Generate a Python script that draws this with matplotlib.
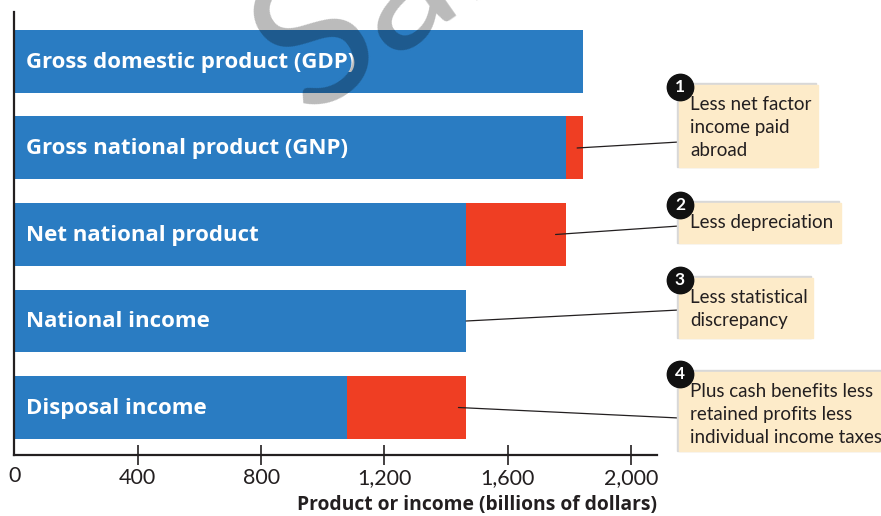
import matplotlib
matplotlib.use("Agg")
import matplotlib.pyplot as plt
from matplotlib.patches import Rectangle, ConnectionPatch
from matplotlib.lines import Line2D

plt.rcParams["font.family"] = ["Lato", "DejaVu Sans"]

# data
categories = ["Gross domestic product (GDP)", "Gross national product (GNP)",
              "Net national product", "National income", "Disposal income"]
blue_values = [1845, 1790, 1465, 1465, 1080]
red_values = [0, 55, 325, 0, 385]
x_ticks = [0, 400, 800, 1200, 1600, 2000]
x_tick_labels = ["0", "400", "800", "1,200", "1,600", "2,000"]
notes = ["Less net factor\nincome paid\nabroad", "Less depreciation",
         "Less statistical\ndiscrepancy",
         "Plus cash benefits less\nretained profits less\nindividual income taxes"]
note_rows = [1, 2, 3, 4]            # which bar each note points at
note_anchor_x = [1825, 1755, 1465, 1440]

BLUE = "#2A7CC2"
RED = "#EF3E23"
BOX = "#FDEBC9"
INK = "#231F20"

W, H = 881, 516
fig = plt.figure(figsize=(W / 100, H / 100), dpi=100)
ax = fig.add_axes([14.4 / W, 1 - 455 / H, (656.7 - 14.4) / W, (455 - 12) / H])

def fx(px):
    return px / W

def fy(py):
    return 1 - py / H

ypos = [4 - i for i in range(len(categories))]
ax.barh(ypos, blue_values, height=0.728, color=BLUE, zorder=2)
ax.barh(ypos, red_values, left=blue_values, height=0.728, color=RED, zorder=2)

for y, name in zip(ypos, categories):
    ax.text(38, y - 0.01, name, color="white", fontsize=16, fontweight="bold",
            family="Open Sans", va="center", ha="left", zorder=3)

ax.set_xlim(0, 2083)
ax.set_ylim(-0.549, 4.572)
for s in ["top", "right"]:
    ax.spines[s].set_visible(False)
for s in ["left", "bottom"]:
    ax.spines[s].set_color(INK)
    ax.spines[s].set_linewidth(1.6)
ax.set_yticks([])
ax.set_xticks(x_ticks[1:])
ax.set_xticklabels(x_tick_labels[1:])
ax.tick_params(axis="x", direction="inout", length=15, width=1.2, color=INK,
               labelsize=15.5, labelcolor=INK, pad=2)
fig.text(fx(15), fy(476), "0", fontsize=15.5, color=INK, ha="center", va="center")
ax.set_xlabel("Product or income (billions of dollars)", fontsize=13.9,
              fontweight="bold", family="Open Sans", color=INK, loc="right", labelpad=5)

# annotation boxes (pixel layout)
boxes = [(679, 85, 818, 167), (679, 203, 841, 243),
         (679, 278, 813, 338), (679, 372, 885, 451)]
line_ends = [142, 226, 310, 418]
for i, (x0, y0, x1, y1) in enumerate(boxes):
    fig.patches.append(Rectangle((fx(x0 - 2), fy(y1)), fx(x1 - x0), fy(y0 - 2) - fy(y1),
                                 transform=fig.transFigure, color="#D8D8D8", zorder=4))
    fig.patches.append(Rectangle((fx(x0), fy(y1)), fx(x1 - x0), fy(y0) - fy(y1),
                                 transform=fig.transFigure, color=BOX, zorder=5))
    fig.text(fx(x0 + 11), fy(y0 + 11), notes[i], fontsize=13.5, color=INK,
             ha="left", va="top", linespacing=1.42, zorder=6)
    fig.lines.append(Line2D([fx(x0 + 1)], [fy(y0 + 2)], marker="o", markersize=19,
                            color="#111111", transform=fig.transFigure, zorder=7))
    fig.text(fx(x0 + 1), fy(y0 + 2), str(i + 1), color="white", fontsize=12.5,
             fontweight="bold", ha="center", va="center", zorder=8)
    con = ConnectionPatch(xyA=(note_anchor_x[i], ypos[note_rows[i]]), coordsA=ax.transData,
                          xyB=(fx(x0), fy(line_ends[i])), coordsB=fig.transFigure,
                          color=INK, lw=0.9, zorder=4)
    fig.add_artist(con)

# watermark
fig.text(fx(306), fy(116), "Sample", fontsize=135, color="black", alpha=0.27,
         rotation=35, rotation_mode="anchor", ha="left", va="baseline", zorder=9)

fig.savefig("out.png", dpi=100)
